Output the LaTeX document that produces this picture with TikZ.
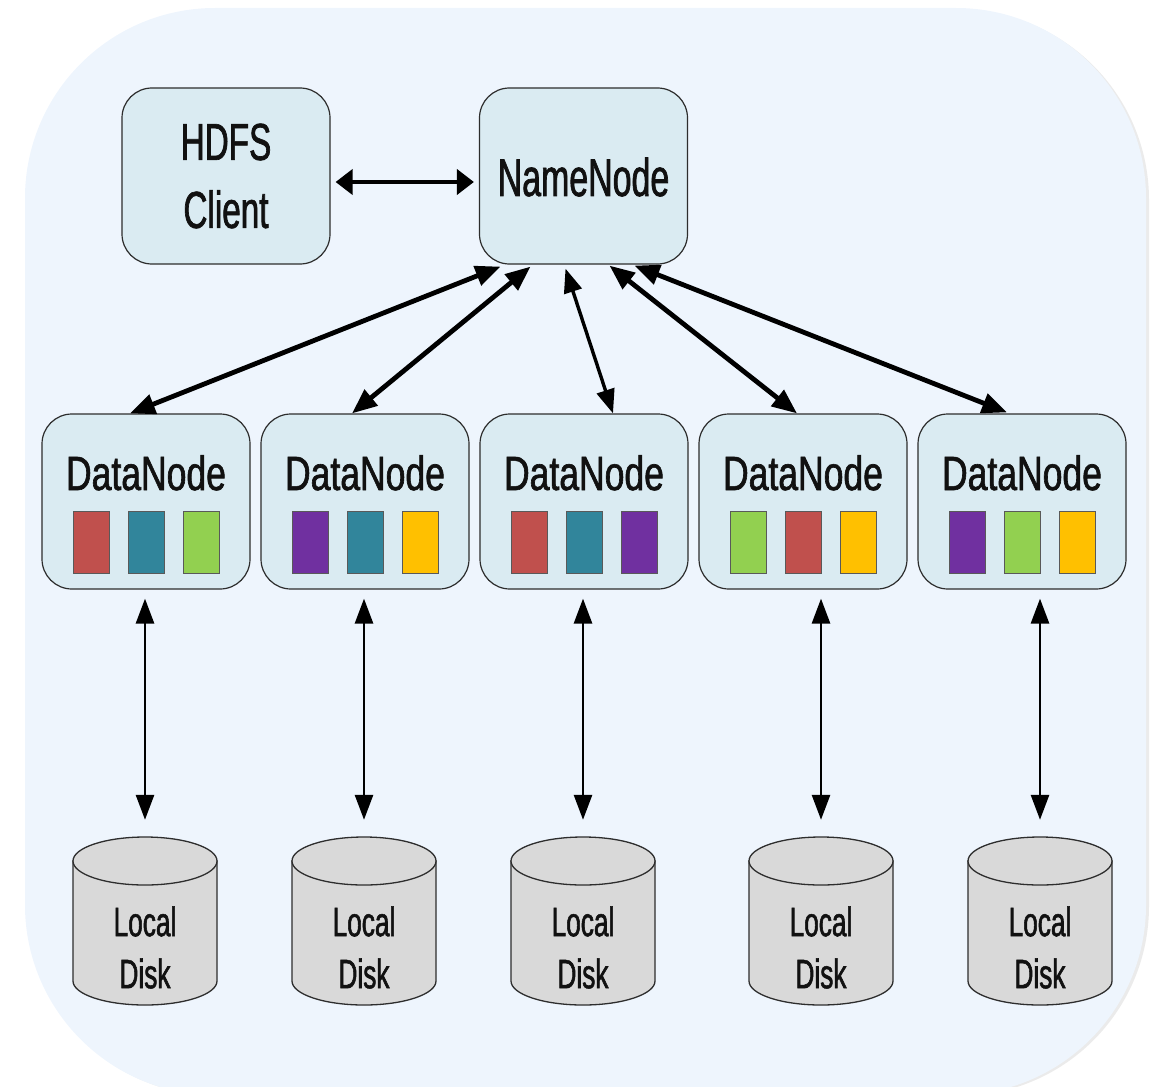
\documentclass[tikz,border=0pt]{standalone}
\usepackage{fontspec}
\setmainfont{Liberation Sans}
\newfontfamily\narrowA[FakeStretch=0.64,FakeBold=1.3]{Liberation Sans}
\newfontfamily\narrowB[FakeStretch=0.74,FakeBold=1.3]{Liberation Sans}
\usetikzlibrary{arrows.meta,calc}

\definecolor{bgpanel}{RGB}{238,245,253}
\definecolor{boxfill}{RGB}{218,235,242}
\definecolor{boxline}{RGB}{45,45,45}
\definecolor{diskgray}{RGB}{217,217,217}
\definecolor{textdark}{RGB}{17,17,17}
\definecolor{blkred}{RGB}{192,80,77}
\definecolor{blkteal}{RGB}{49,133,155}
\definecolor{blkgreen}{RGB}{146,208,80}
\definecolor{blkpurple}{RGB}{112,48,160}
\definecolor{blkyellow}{RGB}{255,192,0}

\tikzset{
  box/.style={draw=boxline, line width=1.2pt, fill=boxfill, rounded corners=30pt,
    minimum width=208pt, minimum height=176pt, inner sep=0pt},
  dnbox/.style={box, minimum height=175pt},
  bigtext/.style={text=textdark, inner sep=0pt, font=\narrowA\fontsize{53}{68}\selectfont},
  clienttext/.style={text=textdark, inner sep=0pt, align=center, font=\narrowA\fontsize{52}{68}\selectfont},
  dntext/.style={text=textdark, inner sep=0pt, anchor=base, font=\narrowB\fontsize{48}{60}\selectfont},
  disktext/.style={text=textdark, inner sep=0pt, align=center, font=\narrowA\fontsize{41}{52}\selectfont},
  blk/.style={draw=black!65, line width=0.6pt, minimum width=36pt, minimum height=62pt, inner sep=0pt},
  diskarea/.style={minimum width=144pt, minimum height=168pt, inner sep=0pt},
  diskbody/.style={fill=diskgray, draw=boxline, line width=1.3pt},
  link/.style={line width=4.8pt, {Triangle[length=25pt,width=20pt]}-{Triangle[length=25pt,width=20pt]}},
  thinlink/.style={line width=3.4pt, {Triangle[length=24pt,width=18pt]}-{Triangle[length=24pt,width=18pt]}},
  vlink/.style={line width=2.8pt, {Triangle[length=25pt,width=18pt]}-{Triangle[length=25pt,width=18pt]}},
  hlink/.style={line width=4pt, {Triangle[length=17pt,width=25pt]}-{Triangle[length=17pt,width=25pt]}},
}

% storage cylinder centred at x = #2, with a named bounding area #1
\newcommand\diskcyl[2]{%
  \path[diskbody] ({#2-72},861) -- ({#2-72},981)
    arc[start angle=180, end angle=0, x radius=72, y radius=24]
    -- ({#2+72},861) -- cycle;
  \path[diskbody] (#2,861) ellipse[x radius=72, y radius=24];
  \node[diskarea] (#1) at (#2,921) {};
  \node[disktext] (#1t) at (#2,947.5) {Local\\Disk};
}

% data node with its three coloured blocks
\newcommand\datanode[5]{%
  \node[dnbox] (#1) at (#2,501.5) {};
  \node[dntext] (#1t) at (#2,490) {DataNode};
  \node[blk, fill=#3] (#1a) at ({#2-55},542) {};
  \node[blk, fill=#4] (#1b) at (#2,542) {};
  \node[blk, fill=#5] (#1c) at ({#2+55},542) {};
}

\begin{document}
\begin{tikzpicture}[x=1pt, y=-1pt]
  \useasboundingbox (0,0) rectangle (1150,1086);

  % panel with a faint shadow on its right side
  \fill[black!8, rounded corners=190pt] (28,10) rectangle (1149,1096);
  \fill[bgpanel, rounded corners=190pt] (25,8) rectangle (1146,1095);

  % top row
  \node[box] (client) at (226,176) {};
  \node[clienttext] (clientt) at (226,176) {HDFS\\Client};
  \node[box] (nn) at (583.5,176) {};
  \node[bigtext, anchor=base] (nnt) at (583.5,196) {NameNode};

  % data nodes
  \datanode{dn1}{146}{blkred}{blkteal}{blkgreen}
  \datanode{dn2}{365}{blkpurple}{blkteal}{blkyellow}
  \datanode{dn3}{584}{blkred}{blkteal}{blkpurple}
  \datanode{dn4}{803}{blkgreen}{blkred}{blkyellow}
  \datanode{dn5}{1022}{blkpurple}{blkgreen}{blkyellow}

  % local disks
  \diskcyl{disk1}{145}
  \diskcyl{disk2}{364}
  \diskcyl{disk3}{583}
  \diskcyl{disk4}{821}
  \diskcyl{disk5}{1040}

  % client <-> name node
  \draw[hlink] ($(client.east)+(5,6)$) -- ($(nn.west)+(-5,6)$);

  % name node <-> data nodes
  \draw[link] ($(nn.south)+(-83,2)$) -- ($(dn1.north)+(-16,0)$);
  \draw[link] ($(nn.south)+(-53,2)$) -- ($(dn2.north)+(-13,0)$);
  \draw[thinlink] ($(nn.south)+(-18,4)$) -- ($(dn3.north)+(29,0)$);
  \draw[link] ($(nn.south)+(26,1)$) -- ($(dn4.north)+(-6,0)$);
  \draw[link] ($(nn.south)+(51,1)$) -- ($(dn5.north)+(-15,-1)$);

  % data nodes <-> local disks
  \foreach \i in {1,...,5}
    \draw[vlink, shorten <=9pt, shorten >=17pt] (dn\i.south -| disk\i.north) -- (disk\i.north);
\end{tikzpicture}
\end{document}
